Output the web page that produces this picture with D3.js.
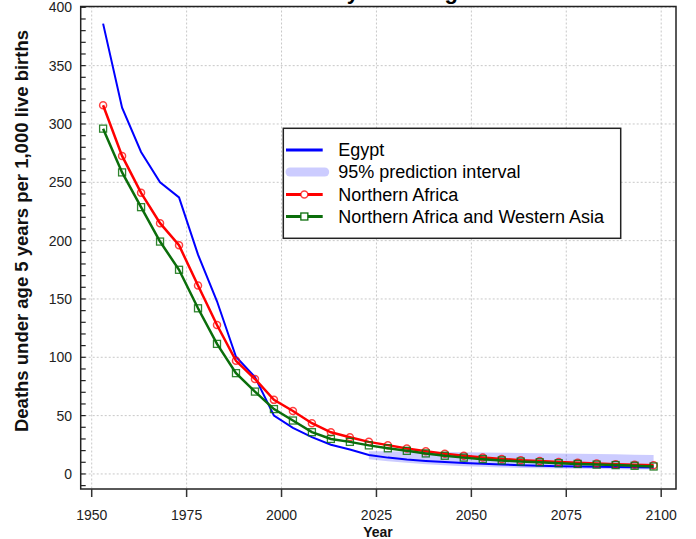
<!DOCTYPE html>
<html>
<head>
<meta charset="utf-8">
<script src="https://cdn.jsdelivr.net/npm/d3@7"></script>
<style>
  html, body { margin: 0; padding: 0; background: #fff; }
  svg { display: block; font-family: "Liberation Sans", Arial, sans-serif; }
</style>
</head>
<body>
<svg id="chart" width="696" height="539"></svg>
<script>
// ---- Data ----
const years = [1953,1958,1963,1968,1973,1978,1983,1988,1993,1998,2003,2008,2013,2018,2023,
               2028,2033,2038,2043,2048,2053,2058,2063,2068,2073,2078,2083,2088,2093,2098];
const egypt = [386,314,276,250,237,188,148,100.5,83,50,39.5,31.5,25,21,16.3,
               14,12.4,11.2,10.2,9.4,8.7,8.1,7.5,7.1,6.7,6.4,6.1,5.9,5.7,5.5];
const northernAfrica = [316,272.6,241,215,196,161.5,127.7,97,81.4,63.5,54,43.5,35.7,31.5,27.5,
               24.7,21.8,19.5,17.4,15.6,14.1,12.9,11.8,11,10.2,9.6,9,8.4,7.9,7.4];
const naWesternAsia = [296,258.5,228.7,199.2,175,142,111.5,86.4,70.6,55.6,45.8,35.8,30,27.5,24.5,
               22,19.8,17.6,15.6,14,12.7,11.6,10.6,10,9.2,8.6,8,7.6,7,6.4];
const bandYears = [2023,2028,2033,2038,2043,2048,2053,2058,2063,2068,2073,2078,2083,2088,2093,2098];
const bandLower = [12.5,10.8,9.5,8.3,7.4,6.7,6.1,5.6,5.2,4.9,4.6,4.4,4.2,4.0,3.9,3.8];
const bandUpper = [19.5,19.5,19.3,19,18.8,18.6,18.4,18.2,18,17.8,17.6,17.3,17,16.8,16.5,16.3];
const xTicks = [1950,1975,2000,2025,2050,2075,2100];
const yTicks = [0,50,100,150,200,250,300,350,400];
const yMinorTicks = d3.range(-10, 401, 10);
const legendLabels = ["Egypt","95% prediction interval","Northern Africa","Northern Africa and Western Asia"];
const titleText = "Mortality under age 5";
const xLabel = "Year";
const yLabel = "Deaths under age 5 years per 1,000 live births";

// ---- Layout ----
const svg = d3.select("#chart");
const L = 80.7, R = 676, T = 6.5, B = 489;
const x = d3.scaleLinear().domain([1947.1, 2103.9]).range([L, R]);
const y = d3.scaleLinear().domain([-12.9, 400.7]).range([B, T]);

const BLUE = "#0000ff", RED = "#ff0000", GREEN = "#0b6e0b";

// title (mostly cut off at the top)
svg.append("text").attr("x", 378).attr("y", -1.5).attr("text-anchor", "middle")
  .attr("font-size", 22).attr("font-weight", "bold").attr("fill", "#000").text(titleText);

// gridlines
const grid = svg.append("g").attr("stroke", "#c8c8c8").attr("stroke-width", 1).attr("stroke-dasharray", "2,2");
grid.selectAll("line.gx").data(xTicks).join("line").attr("class", "gx")
  .attr("x1", d => x(d)).attr("x2", d => x(d)).attr("y1", T).attr("y2", B);
grid.selectAll("line.gy").data(yTicks).join("line").attr("class", "gy")
  .attr("x1", L).attr("x2", R).attr("y1", d => y(d)).attr("y2", d => y(d));

// prediction band
const bandData = bandYears.map((yr, i) => ({yr, lo: bandLower[i], hi: bandUpper[i]}));
svg.append("path").datum(bandData)
  .attr("d", d3.area().x(d => x(d.yr)).y0(d => y(d.lo)).y1(d => y(d.hi)))
  .attr("fill", BLUE).attr("fill-opacity", 0.2);

// lines
const line = d3.line().x(d => x(d[0])).y(d => y(d[1]));
function series(vals) { return years.map((yr, i) => [yr, vals[i]]); }

svg.append("path").datum(series(egypt)).attr("d", line)
  .attr("fill", "none").attr("stroke", BLUE).attr("stroke-width", 2);

svg.append("path").datum(series(northernAfrica)).attr("d", line)
  .attr("fill", "none").attr("stroke", RED).attr("stroke-width", 2.5);
svg.append("g").selectAll("circle").data(series(northernAfrica)).join("circle")
  .attr("cx", d => x(d[0])).attr("cy", d => y(d[1])).attr("r", 3.5)
  .attr("fill", "none").attr("stroke", RED).attr("stroke-opacity", 0.75).attr("stroke-width", 1.5);

svg.append("path").datum(series(naWesternAsia)).attr("d", line)
  .attr("fill", "none").attr("stroke", GREEN).attr("stroke-width", 2.5);
svg.append("g").selectAll("rect").data(series(naWesternAsia)).join("rect")
  .attr("x", d => x(d[0]) - 3.5).attr("y", d => y(d[1]) - 3.5).attr("width", 7).attr("height", 7)
  .attr("fill", "none").attr("stroke", GREEN).attr("stroke-opacity", 0.85).attr("stroke-width", 1.3);

// frame
svg.append("rect").attr("x", L).attr("y", T).attr("width", R - L).attr("height", B - T)
  .attr("fill", "none").attr("stroke", "#222").attr("stroke-width", 1.5);

// y minor ticks (inward)
svg.append("g").selectAll("line").data(yMinorTicks).join("line")
  .attr("x1", L).attr("x2", L + 5).attr("y1", d => y(d)).attr("y2", d => y(d))
  .attr("stroke", "#222").attr("stroke-width", 1.2);

// x ticks (outward)
svg.append("g").selectAll("line").data(xTicks).join("line")
  .attr("x1", d => x(d)).attr("x2", d => x(d)).attr("y1", B).attr("y2", B + 8)
  .attr("stroke", "#333").attr("stroke-width", 1.5);

// tick labels
svg.append("g").selectAll("text").data(xTicks).join("text")
  .attr("x", d => x(d)).attr("y", 520).attr("text-anchor", "middle")
  .attr("font-size", 14).attr("fill", "#222").text(d => d);
svg.append("g").selectAll("text").data(yTicks).join("text")
  .attr("x", 72).attr("y", d => y(d)).attr("dy", "0.35em").attr("text-anchor", "end")
  .attr("font-size", 14).attr("fill", "#222").text(d => d);

// axis titles
svg.append("text").attr("x", 378).attr("y", 537).attr("text-anchor", "middle")
  .attr("font-size", 14).attr("font-weight", "bold").attr("fill", "#111").text(xLabel);
svg.append("text").attr("transform", "translate(27.5,231) rotate(-90)").attr("text-anchor", "middle")
  .attr("font-size", 18.5).attr("font-weight", "bold").attr("fill", "#111").text(yLabel);

// legend
const lg = svg.append("g");
lg.append("rect").attr("x", 283.3).attr("y", 128.3).attr("width", 337.4).attr("height", 110)
  .attr("fill", "#fff").attr("stroke", "#222").attr("stroke-width", 1.5);
const rowY = [150, 172, 194.5, 216.5];
const lx1 = 286, lx2 = 322.7, lmid = (lx1 + lx2) / 2;
lg.append("line").attr("x1", lx1).attr("x2", lx2).attr("y1", rowY[0]).attr("y2", rowY[0])
  .attr("stroke", BLUE).attr("stroke-width", 3);
lg.append("line").attr("x1", lx1 + 4).attr("x2", lx2 + 2).attr("y1", rowY[1]).attr("y2", rowY[1])
  .attr("stroke", BLUE).attr("stroke-opacity", 0.2).attr("stroke-width", 9).attr("stroke-linecap", "round");
lg.append("line").attr("x1", lx1).attr("x2", lx2).attr("y1", rowY[2]).attr("y2", rowY[2])
  .attr("stroke", RED).attr("stroke-width", 3);
lg.append("circle").attr("cx", lmid).attr("cy", rowY[2]).attr("r", 3.5)
  .attr("fill", "#fff").attr("stroke", RED).attr("stroke-opacity", 0.75).attr("stroke-width", 1.5);
lg.append("line").attr("x1", lx1).attr("x2", lx2).attr("y1", rowY[3]).attr("y2", rowY[3])
  .attr("stroke", GREEN).attr("stroke-width", 3);
lg.append("rect").attr("x", lmid - 3.5).attr("y", rowY[3] - 3.5).attr("width", 7).attr("height", 7)
  .attr("fill", "#fff").attr("stroke", GREEN).attr("stroke-width", 1.3);
lg.selectAll("text").data(legendLabels).join("text")
  .attr("x", 338.3).attr("y", (d, i) => rowY[i]).attr("dy", "0.35em")
  .attr("font-size", 18).attr("fill", "#000").text(d => d);
</script>
</body>
</html>
